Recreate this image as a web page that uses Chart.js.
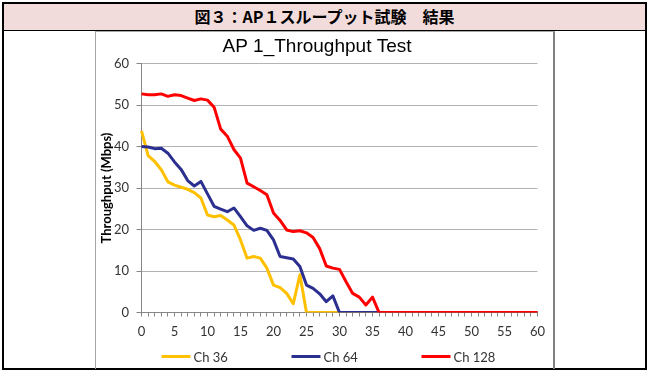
<!DOCTYPE html>
<html>
<head>
<meta charset="utf-8">
<script src="https://cdn.jsdelivr.net/npm/chart.js@4/dist/chart.umd.min.js"></script>
<style>
  body { margin: 0; background: #fff; }
  #frame { position: absolute; left: 2px; top: 2px; width: 641px; height: 364px; border: 2px solid #000; }
  #head { height: 26px; line-height: 27px; background: #f2dcdb; border-bottom: 1px solid #000;
          text-align: center; font: bold 16px "Noto Sans CJK JP"; color: #000; }
  #box { position: absolute; left: 91px; top: 27px; width: 457px; height: 337px;
         border: 1px solid #a6a6a6; border-right: 2px solid #808080; border-bottom: none; }
  canvas { position: absolute; left: 0; top: 0; }
</style>
</head>
<body>
<div id="frame">
  <div id="head">図３：AP１スループット試験　結果</div>
  <div id="box"><canvas id="chart" width="457" height="336"></canvas></div>
</div>
<script>
const seconds = [0, 1, 2, 3, 4, 5, 6, 7, 8, 9, 10, 11, 12, 13, 14, 15, 16, 17, 18, 19, 20,
    21, 22, 23, 24, 25, 26, 27, 28, 29, 30, 31, 32, 33, 34, 35, 36, 37, 38, 39, 40,
    41, 42, 43, 44, 45, 46, 47, 48, 49, 50, 51, 52, 53, 54, 55, 56, 57, 58, 59, 60];

const ch36 = [43.8, 37.8, 36.4, 34.4, 31.5, 30.7, 30.2, 29.7, 28.9, 27.6, 23.5, 23.1, 23.4, 22.3, 21.1,
    17.5, 13.1, 13.5, 13.1, 10.7, 6.6, 6.0, 4.6, 2.1, 9.1,
    0, 0, 0, 0, 0, 0, 0, 0, 0, 0, 0, 0, 0, 0, 0, 0, 0, 0, 0, 0, 0, 0, 0, 0, 0, 0, 0, 0, 0, 0, 0, 0, 0, 0, 0, 0];

const ch64 = [40.0, 39.9, 39.5, 39.6, 38.4, 36.3, 34.5, 31.8, 30.5, 31.6, 28.6, 25.6, 24.9, 24.3, 25.2,
    23.1, 20.9, 19.8, 20.3, 19.8, 17.5, 13.5, 13.2, 12.9, 11.1, 6.6, 5.8, 4.5, 2.6, 4.0,
    0, 0, 0, 0, 0, 0, 0, 0, 0, 0, 0, 0, 0, 0, 0, 0, 0, 0, 0, 0, 0, 0, 0, 0, 0, 0, 0, 0, 0, 0, 0];

const ch128 = [52.7, 52.5, 52.5, 52.7, 52.1, 52.5, 52.3, 51.7, 51.1, 51.5, 51.2, 49.5, 44.2, 42.5, 39.3,
    37.2, 31.2, 30.3, 29.4, 28.4, 24.0, 22.2, 19.9, 19.5, 19.7, 19.2, 18.1, 15.4, 11.2, 10.7,
    10.4, 7.4, 4.6, 3.7, 1.8, 3.7,
    0, 0, 0, 0, 0, 0, 0, 0, 0, 0, 0, 0, 0, 0, 0, 0, 0, 0, 0, 0, 0, 0, 0, 0, 0];

const seriesNames = ["Ch 36", "Ch 64", "Ch 128"];
const colors = ["#ffc000", "#2b2f8f", "#ff0000"];

Chart.defaults.font.family = "Lato";
Chart.defaults.color = "#333";

// excel style legend: short line + label, evenly spaced
const legendRow = {
    id: "legendRow",
    afterDraw(chart) {
        const {ctx, chartArea} = chart;
        const y = chartArea.bottom + 44;
        ctx.save();
        ctx.font = "13px Lato";
        ctx.textBaseline = "middle";
        chart.data.datasets.forEach((ds, i) => {
            const x = chartArea.left + 20 + i * 130;
            ctx.strokeStyle = ds.borderColor;
            ctx.lineWidth = 3;
            ctx.beginPath();
            ctx.moveTo(x, y);
            ctx.lineTo(x + 29, y);
            ctx.stroke();
            ctx.fillStyle = "#333";
            ctx.fillText(ds.label, x + 32, y + 1);
        });
        ctx.restore();
    }
};

const datasets = [ch36, ch64, ch128].map((values, i) => ({
    label: seriesNames[i],
    data: values,
    borderColor: colors[i],
    backgroundColor: colors[i],
    borderWidth: 3,
    pointRadius: 0,
    tension: 0,
    borderJoinStyle: "round",
    order: 3 - i,
}));

new Chart(document.getElementById("chart"), {
    type: "line",
    data: {labels: seconds, datasets},
    plugins: [legendRow],
    options: {
        responsive: false,
        animation: false,
        devicePixelRatio: 1,
        layout: {padding: {left: 0, right: 15, top: 0, bottom: 27.5}},
        plugins: {
            legend: {display: false},
            tooltip: {enabled: false},
            title: {
                display: true,
                text: "AP 1_Throughput Test",
                color: "#000",
                font: {family: "Liberation Sans", size: 19, weight: "normal"},
                padding: {top: 3, bottom: 5.8}
            }
        },
        scales: {
            x: {
                type: "category",
                offset: false,
                afterFit: s => { s.height = 28; },
                border: {color: "#868686", width: 1},
                grid: {drawOnChartArea: false, drawTicks: true, tickLength: 4, tickColor: "#868686"},
                ticks: {
                    autoSkip: false,
                    maxRotation: 0,
                    padding: 8,
                    font: {size: 13},
                    callback: (v, i) => i % 5 === 0 ? seconds[i] : ""
                }
            },
            y: {
                min: 0,
                max: 60,
                afterFit: s => { s.width = 45.5; },
                border: {color: "#868686", width: 1},
                grid: {color: "#b3b3b3", tickColor: "#868686", tickLength: 5},
                ticks: {stepSize: 10, padding: 7.5, font: {size: 13}},
                title: {
                    display: true,
                    text: "Throughput (Mbps)",
                    color: "#000",
                    font: {size: 13, weight: "bold"},
                    padding: {top: 3, bottom: 0}
                }
            }
        }
    }
});
</script>
</body>
</html>
